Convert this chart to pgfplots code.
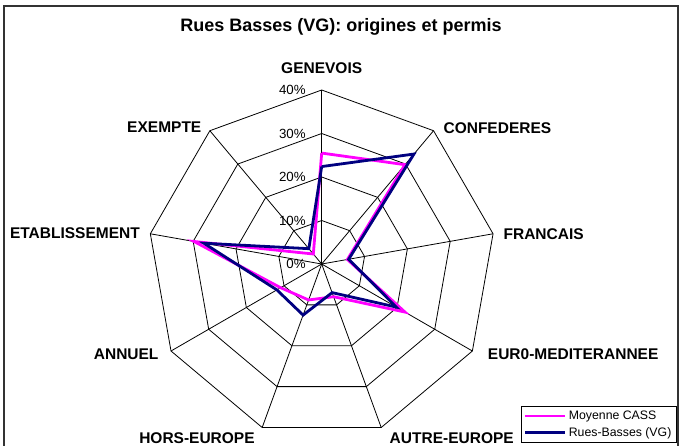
\documentclass[border=0pt]{standalone}
\usepackage{fontspec}
\setmainfont{Liberation Sans}
\usepackage{pgfplots}
\usepgfplotslibrary{polar}
\pgfplotsset{compat=1.18}
\definecolor{cassPink}{HTML}{FF00FF}
\definecolor{rbNavy}{HTML}{000080}
\begin{document}
\begin{tikzpicture}[x=1pt,y=1pt]
\begin{polaraxis}[
  at={(321.7pt,-264pt)}, anchor=center,
  scale only axis, width=348pt, height=348pt,
  xmin=0, xmax=360, ymin=0, ymax=40,
  hide axis, clip=false,
  legend style={at={(1.072,0.0928)}, anchor=north west, draw=black, line width=0.6pt,
    font=\fontsize{12.3}{14}\selectfont, inner xsep=3pt, inner ysep=3pt, row sep=2pt,
    cells={anchor=west}},
  legend image code/.code={\draw[#1] (0pt,0pt) -- (40pt,0pt);},
  every node/.style={inner sep=0pt},
]
% grid (nonagons)
\addplot[black, line width=0.8pt, forget plot] coordinates {(90,10)(50,10)(10,10)(330,10)(290,10)(250,10)(210,10)(170,10)(130,10)(90,10)};
\addplot[black, line width=0.8pt, forget plot] coordinates {(90,20)(50,20)(10,20)(330,20)(290,20)(250,20)(210,20)(170,20)(130,20)(90,20)};
\addplot[black, line width=0.8pt, forget plot] coordinates {(90,30)(50,30)(10,30)(330,30)(290,30)(250,30)(210,30)(170,30)(130,30)(90,30)};
\addplot[black, line width=0.8pt, forget plot] coordinates {(90,40)(50,40)(10,40)(330,40)(290,40)(250,40)(210,40)(170,40)(130,40)(90,40)};
% spokes
\addplot[black, line width=0.8pt, forget plot] coordinates {(90,0)(90,40)};
\addplot[black, line width=0.8pt, forget plot] coordinates {(50,0)(50,40)};
\addplot[black, line width=0.8pt, forget plot] coordinates {(10,0)(10,40)};
\addplot[black, line width=0.8pt, forget plot] coordinates {(330,0)(330,40)};
\addplot[black, line width=0.8pt, forget plot] coordinates {(290,0)(290,40)};
\addplot[black, line width=0.8pt, forget plot] coordinates {(250,0)(250,40)};
\addplot[black, line width=0.8pt, forget plot] coordinates {(210,0)(210,40)};
\addplot[black, line width=0.8pt, forget plot] coordinates {(170,0)(170,40)};
\addplot[black, line width=0.8pt, forget plot] coordinates {(130,0)(130,40)};
% data: GENEVOIS, CONFEDERES, FRANCAIS, EUR0-MEDITERANNEE, AUTRE-EUROPE, HORS-EUROPE, ANNUEL, ETABLISSEMENT, EXEMPTE
\addplot[cassPink, line width=2.8pt, line join=miter] coordinates {(90,25.5)(50,29.8)(10,6.0)(330,22.1)(290,8.0)(250,8.8)(210,10.9)(170,29.8)(130,3.0)(90,25.5)};
\addlegendentry{Moyenne CASS}
\addplot[rbNavy, line width=2.8pt, line join=miter] coordinates {(90,22.4)(50,33.0)(10,6.3)(330,19.8)(290,7.0)(250,12.5)(210,11.9)(170,27.5)(130,4.6)(90,22.4)};
\addlegendentry{Rues-Basses (VG)}
% percent labels
\node[anchor=east, xshift=-12.5pt, font=\fontsize{13.3}{15}\selectfont] at (axis cs:90,0) {0\%};
\node[anchor=east, xshift=-12.5pt, font=\fontsize{13.3}{15}\selectfont] at (axis cs:90,10) {10\%};
\node[anchor=east, xshift=-12.5pt, font=\fontsize{13.3}{15}\selectfont] at (axis cs:90,20) {20\%};
\node[anchor=east, xshift=-12.5pt, font=\fontsize{13.3}{15}\selectfont] at (axis cs:90,30) {30\%};
\node[anchor=east, xshift=-12.5pt, font=\fontsize{13.3}{15}\selectfont] at (axis cs:90,40) {40\%};
% category labels
\begin{scope}[every node/.append style={font=\fontsize{15.5}{18}\selectfont\bfseries}]
\node[anchor=base, yshift=16.7pt] at (axis cs:90,40) {GENEVOIS};
\node[anchor=base west, xshift=6.5pt, yshift=-2.6pt] at (axis cs:50,40) {CONFEDERES};
\node[anchor=base west, xshift=7pt, yshift=-6pt] at (axis cs:10,40) {FRANCAIS};
\node[anchor=base west, xshift=12pt, yshift=-8pt] at (axis cs:330,40) {EUR0-MEDITERANNEE};
\node[anchor=base west, xshift=5pt, yshift=-15.5pt] at (axis cs:290,40) {AUTRE-EUROPE};
\node[anchor=base east, xshift=-4pt, yshift=-15.5pt] at (axis cs:250,40) {HORS-EUROPE};
\node[anchor=base east, xshift=-9pt, yshift=-8pt] at (axis cs:210,40) {ANNUEL};
\node[anchor=base east, xshift=-7pt, yshift=-5pt] at (axis cs:170,40) {ETABLISSEMENT};
\node[anchor=base east, xshift=-5pt, yshift=-2pt] at (axis cs:130,40) {EXEMPTE};
\end{scope}
\end{polaraxis}
\node[anchor=base, inner sep=0pt, font=\fontsize{18}{21}\selectfont\bfseries] at (341,-31.7) {Rues Basses (VG): origines et permis};
\draw[line width=2pt, black!80] (4,-470) -- (4,-6) -- (678,-6) -- (678,-470);
\pgfresetboundingbox
\useasboundingbox (0,0) rectangle (680,-446);
\end{tikzpicture}
\end{document}
